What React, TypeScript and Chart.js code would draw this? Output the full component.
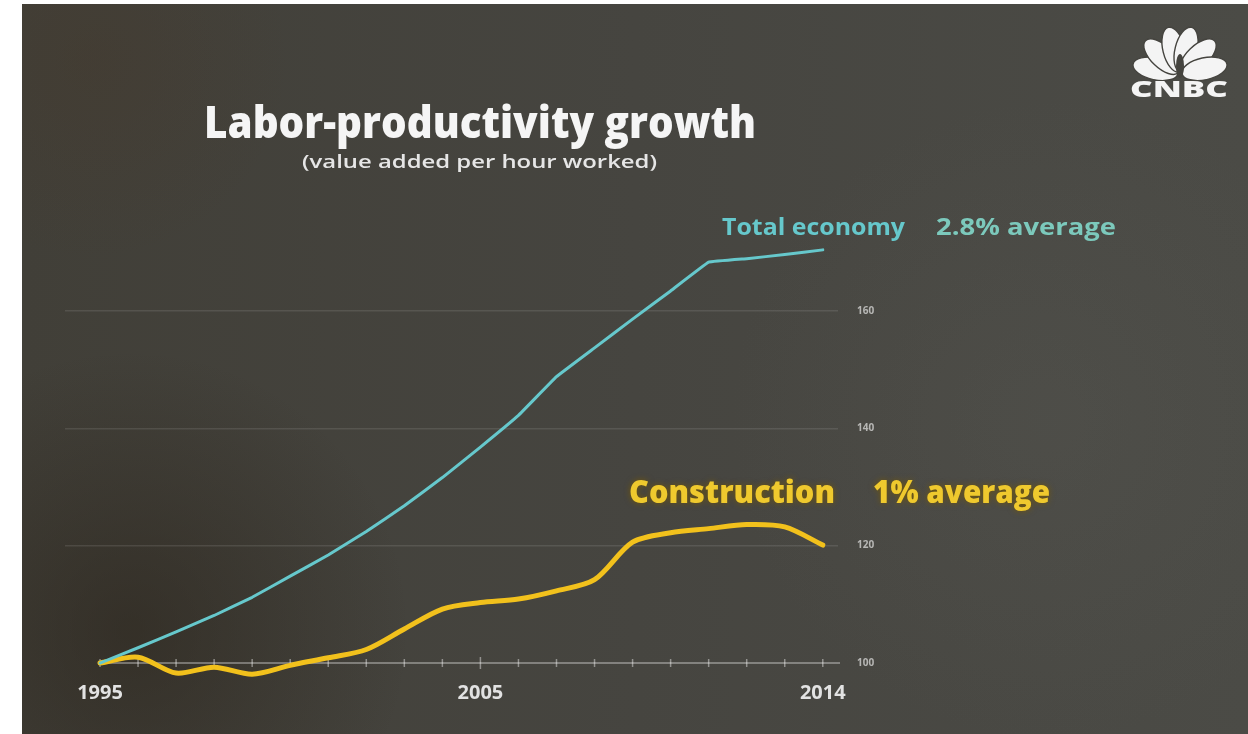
import React, { useEffect, useRef } from 'react';
import { Chart, registerables } from 'chart.js';

Chart.register(...registerables);

// ---- data ----
const years = [1995, 1996, 1997, 1998, 1999, 2000, 2001, 2002, 2003, 2004, 2005, 2006, 2007, 2008, 2009, 2010, 2011, 2012, 2013, 2014];
const totalEconomy = [100, 102.6, 105.3, 108.1, 111.2, 114.8, 118.4, 122.4, 126.8, 131.6, 136.8, 142.2, 148.8, 153.7, 158.6, 163.4, 168.3, 168.9, 169.6, 170.4];
const construction = [100, 101, 98.3, 99.3, 98.1, 99.6, 100.9, 102.3, 105.8, 109.2, 110.3, 110.9, 112.3, 114.2, 120.6, 122.2, 122.9, 123.6, 123.2, 120.1];
const yTickValues = [100, 120, 140, 160];
const xLabelYears = [1995, 2005, 2014];

const title = 'Labor-productivity growth';
const subtitle = '(value added per hour worked)';
const seriesNames = ['Total economy', 'Construction'];
const seriesNotes = ['2.8% average', '1% average'];

const TEAL = '#66c8cc';
const TEAL2 = '#7cc9bc';
const GOLD = '#f2c11c';
const GOLD_TEXT = '#efc92e';
const FONT = '"Open Sans", "DejaVu Sans", sans-serif';

function fitText(ctx: CanvasRenderingContext2D, text: string, x: number, baseline: number, size: number, width: number, color: string, weight = 'bold', glow?: string) {
  ctx.save();
  ctx.font = `${weight} ${size}px ${FONT}`;
  const w = ctx.measureText(text).width;
  ctx.translate(x, baseline);
  ctx.scale(width / w, 1);
  ctx.textBaseline = 'alphabetic';
  ctx.textAlign = 'left';
  if (glow) {
    ctx.shadowColor = glow;
    ctx.shadowBlur = 6;
  }
  ctx.fillStyle = color;
  ctx.fillText(text, 0, 0);
  ctx.restore();
}

const backgroundPlugin = {
  id: 'bg',
  beforeDraw(chart: any) {
    const { ctx, width, height } = chart;
    ctx.save();
    ctx.fillStyle = '#ffffff';
    ctx.fillRect(0, 0, width, height);
    const x0 = 22, y0 = 4;
    const g = ctx.createLinearGradient(x0, 0, width, 0);
    g.addColorStop(0, '#413f38');
    g.addColorStop(0.5, '#464540');
    g.addColorStop(1, '#4b4b46');
    ctx.fillStyle = g;
    ctx.fillRect(x0, y0, width - x0, height - y0);
    ctx.beginPath();
    ctx.rect(x0, y0, width - x0, height - y0);
    ctx.clip();
    const r1 = ctx.createRadialGradient(130, 630, 10, 130, 630, 280);
    r1.addColorStop(0, 'rgba(40,33,24,0.5)');
    r1.addColorStop(1, 'rgba(40,33,24,0)');
    ctx.fillStyle = r1;
    ctx.fillRect(x0, y0, width - x0, height - y0);
    const r2 = ctx.createRadialGradient(90, 60, 5, 90, 60, 200);
    r2.addColorStop(0, 'rgba(70,55,40,0.3)');
    r2.addColorStop(1, 'rgba(70,55,40,0)');
    ctx.fillStyle = r2;
    ctx.fillRect(x0, y0, width - x0, height - y0);
    const r3 = ctx.createRadialGradient(1050, 420, 10, 1050, 420, 320);
    r3.addColorStop(0, 'rgba(90,90,85,0.25)');
    r3.addColorStop(1, 'rgba(90,90,85,0)');
    ctx.fillStyle = r3;
    ctx.fillRect(x0, y0, width - x0, height - y0);
    ctx.restore();
  },
};

const axisPlugin = {
  id: 'axisLine',
  beforeDatasetsDraw(chart: any) {
    const { ctx, scales, chartArea } = chart;
    const xs = scales.x, ys = scales.y;
    const y = ys.getPixelForValue(100);
    ctx.save();
    ctx.strokeStyle = 'rgba(255,255,255,0.33)';
    ctx.lineWidth = 2;
    ctx.beginPath();
    ctx.moveTo(xs.getPixelForValue(years[0]), y);
    ctx.lineTo(chartArea.right + 2, y);
    ctx.stroke();
    ctx.strokeStyle = 'rgba(255,255,255,0.42)';
    ctx.lineWidth = 1.5;
    years.forEach((yr) => {
      const x = xs.getPixelForValue(yr);
      const h = yr === 2005 ? 6 : 4;
      ctx.beginPath();
      ctx.moveTo(x, y - h);
      ctx.lineTo(x, y + h);
      ctx.stroke();
    });
    ctx.restore();
  },
};

const textPlugin = {
  id: 'texts',
  afterDraw(chart: any) {
    const { ctx } = chart;
    fitText(ctx, title, 204, 138, 44, 552, '#f5f5f5', '800');
    fitText(ctx, subtitle, 302, 168, 18, 355, '#e6e6e6', '600');
    fitText(ctx, seriesNames[0], 722, 235, 23, 183, TEAL);
    fitText(ctx, seriesNotes[0], 936, 235, 23, 180, TEAL2);
    fitText(ctx, seriesNames[1], 629, 503, 31, 206, GOLD_TEXT, '800', 'rgba(120,90,0,0.9)');
    fitText(ctx, seriesNotes[1], 873, 503, 31, 177, GOLD_TEXT, '800', 'rgba(120,90,0,0.9)');

    // CNBC logo
    ctx.save();
    const cx = 1180, cy = 74;
    const angles = [168, 136, 104, 76, 44, 12];
    angles.forEach((a) => {
      const rad = (a * Math.PI) / 180;
      ctx.beginPath();
      ctx.ellipse(cx + Math.cos(rad) * 25, cy - Math.sin(rad) * 25, 23, 11, -rad, 0, Math.PI * 2);
      ctx.fillStyle = '#f4f4f4';
      ctx.fill();
      ctx.strokeStyle = '#45443f';
      ctx.lineWidth = 1.4;
      ctx.stroke();
    });
    ctx.fillStyle = '#45443f';
    ctx.beginPath();
    ctx.ellipse(cx, cy - 8, 4, 12, 0, 0, Math.PI * 2);
    ctx.fill();
    ctx.restore();
    fitText(ctx, 'CNBC', 1130, 97, 22, 98, '#f4f4f4', '900');
  },
};

export default function App() {
  const canvasRef = useRef<HTMLCanvasElement | null>(null);

  useEffect(() => {
    document.body.style.margin = '0';
    const canvas = canvasRef.current;
    if (!canvas) return;
    const chart = new Chart(canvas, {
      type: 'line',
      data: {
        datasets: [
          {
            label: seriesNames[0],
            data: years.map((yr, i) => ({ x: yr, y: totalEconomy[i] })),
            borderColor: TEAL,
            borderWidth: 3,
            pointRadius: 0,
            tension: 0.05,
            borderCapStyle: 'round',
            borderJoinStyle: 'round',
          },
          {
            label: seriesNames[1],
            data: years.map((yr, i) => ({ x: yr, y: construction[i] })),
            borderColor: GOLD,
            borderWidth: 5,
            pointRadius: 0,
            tension: 0.3,
            borderCapStyle: 'round',
            borderJoinStyle: 'round',
          },
        ],
      },
      options: {
        animation: false,
        responsive: false,
        maintainAspectRatio: false,
        devicePixelRatio: 1,
        layout: { padding: { left: 65, top: 217, right: 370, bottom: 47.5 } },
        plugins: {
          legend: { display: false },
          tooltip: { enabled: false },
          title: { display: false },
        },
        scales: {
          x: {
            type: 'linear',
            min: 1994.08,
            max: 2014.4,
            position: { y: 100 } as any,
            grid: { display: true, drawOnChartArea: false, drawTicks: false, color: 'transparent' },
            border: { display: false },
            afterBuildTicks: (scale: any) => {
              scale.ticks = xLabelYears.map((v) => ({ value: v }));
            },
            ticks: {
              autoSkip: false,
              maxRotation: 0,
              padding: 18,
              color: '#e2e2e2',
              font: { family: FONT, size: 20, weight: 'bold' },
              callback: (v: any) => String(v),
            },
          },
          y: {
            type: 'linear',
            position: 'right',
            min: 96,
            max: 176,
            afterBuildTicks: (scale: any) => {
              scale.ticks = yTickValues.map((v) => ({ value: v }));
            },
            afterFit: (scale: any) => {
              scale.width = 40;
            },
            grid: {
              drawTicks: false,
              lineWidth: 1.5,
              color: (c: any) => (c.tick && c.tick.value === 100 ? 'transparent' : 'rgba(255,255,255,0.1)'),
            },
            border: { display: false },
            ticks: {
              padding: 19,
              color: 'rgba(255,255,255,0.6)',
              font: { family: FONT, size: 10, weight: 'bold' },
              callback: (v: any) => String(v),
            },
          },
        },
      },
      plugins: [backgroundPlugin, axisPlugin, textPlugin],
    });
    return () => chart.destroy();
  }, []);

  return (
    <div style={{ width: 1248, height: 734 }}>
      <canvas ref={canvasRef} width={1248} height={734} style={{ display: 'block', width: 1248, height: 734 }} />
    </div>
  );
}
